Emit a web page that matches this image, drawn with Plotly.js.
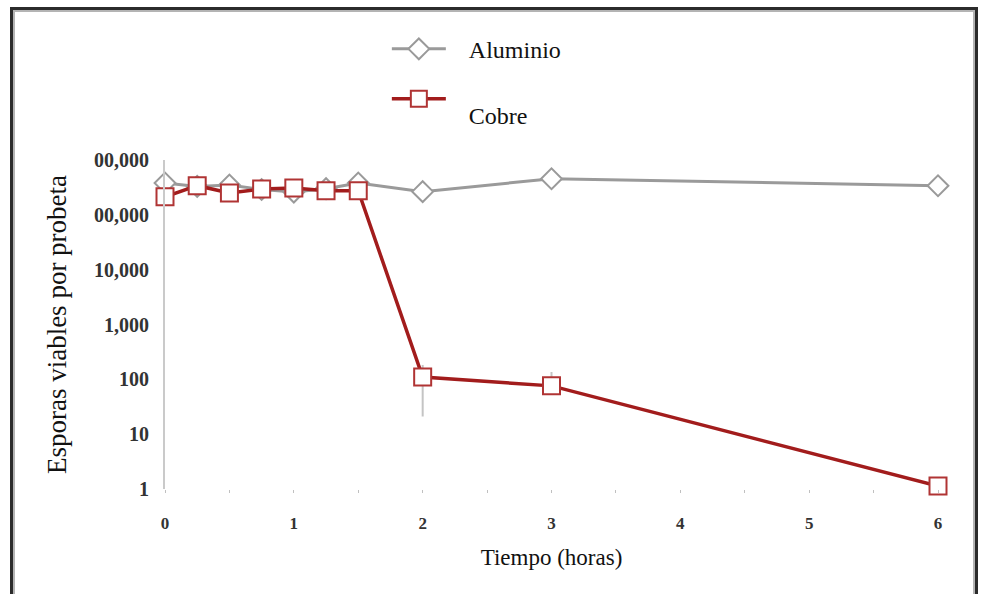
<!DOCTYPE html>
<html>
<head>
<meta charset="utf-8">
<script src="https://cdn.plot.ly/plotly-3.0.1.min.js"></script>
<style>
  html, body { margin: 0; padding: 0; background: #fff; overflow: hidden; }
  #wrap { position: relative; width: 982px; height: 594px; overflow: hidden; background: #fff; }
  #chart { position: absolute; left: 0; top: 0; width: 982px; height: 570px; }
  #frame { position: absolute; left: 10px; top: 7px; width: 968px; height: 620px; box-sizing: border-box;
           border: 3px solid #2b2b2b; box-shadow: inset 2px 2px 0 #b4b4b4, inset -2px 0 0 #b4b4b4; pointer-events: none; }
</style>
</head>
<body>
<div id="wrap">
  <div id="chart"></div>
  <div id="frame"></div>
</div>
<script>
// Time points (hours)
const timeHours = [0, 0.25, 0.5, 0.75, 1, 1.25, 1.5, 2, 3, 6];
// Viable spores per coupon
const aluminio = [380000, 330000, 350000, 290000, 260000, 300000, 380000, 265000, 455000, 340000];
const cobre    = [213000, 340000, 250000, 296000, 310000, 275000, 275000, 110, 76, 1.13];
const cobreErrPlus  = [0, 0, 0, 0, 0, 0, 0, 73, 60, 0];
const cobreErrMinus = [0, 0, 0, 0, 0, 0, 0, 89, 0, 0];
// Axis ticks
const xTickVals = [0, 1, 2, 3, 4, 5, 6];
const xTickText = ['0', '1', '2', '3', '4', '5', '6'];
const yTickVals = [1, 10, 100, 1000, 10000, 100000, 1000000];
const yTickText = ['1', '10', '100', '1,000', '10,000', '00,000', '00,000'];
const seriesNames = ['&nbsp;&nbsp;&nbsp;Aluminio', '&nbsp;<br>&nbsp;&nbsp;&nbsp;Cobre'];

const serif = 'Liberation Serif';

const traces = [
  {
    x: timeHours, y: aluminio, name: seriesNames[0], type: 'scatter', mode: 'lines+markers',
    line: { color: '#9a9a9a', width: 3 },
    marker: { symbol: 'diamond', size: 16, color: '#ffffff', line: { color: '#9a9a9a', width: 2 } },
    cliponaxis: false, legendgroup: 'a'
  },
  {
    x: timeHours, y: cobre, name: seriesNames[1], type: 'scatter', mode: 'lines+markers',
    line: { color: '#a21c1c', width: 3.5 },
    marker: { symbol: 'square', size: 17, color: '#ffffff', line: { color: '#b03434', width: 2 } },
    error_y: { type: 'data', symmetric: false, array: cobreErrPlus, arrayminus: cobreErrMinus,
               color: '#c4c4c4', thickness: 2, width: 0 },
    cliponaxis: false, legendgroup: 'b'
  }
];

const layout = {
  width: 982, height: 570,
  margin: { l: 165, r: 44, t: 160, b: 81 },
  paper_bgcolor: '#ffffff', plot_bgcolor: '#ffffff',
  font: { family: serif },
  showlegend: true,
  legend: {
    x: 0.287, xanchor: 'left', y: 1.405, yanchor: 'top',
    font: { family: serif, size: 24, color: '#111' },
    bgcolor: 'rgba(0,0,0,0)', valign: 'middle', tracegroupgap: 0, itemwidth: 54
  },
  xaxis: {
    range: [0, 6], tickvals: xTickVals, ticktext: xTickText,
    showline: false, showgrid: false, zeroline: false,
    ticks: 'outside', ticklen: 3, tickwidth: 1, tickcolor: '#c0c0c0',
    minor: { dtick: 0.5, ticks: 'outside', ticklen: 3, tickwidth: 1, tickcolor: '#c0c0c0' },
    tickfont: { family: serif, size: 17, color: '#333', weight: 'bold' },
    ticklabelstandoff: 16,
    title: { text: 'Tiempo (horas)', font: { family: serif, size: 23, color: '#111' }, standoff: 34 }
  },
  yaxis: {
    type: 'log', range: [0, 6], tickvals: yTickVals, ticktext: yTickText,
    showline: true, linecolor: '#cacaca', linewidth: 2,
    showgrid: false, zeroline: false, ticks: '',
    tickfont: { family: serif, size: 20, color: '#333', weight: 'bold' },
    ticklabelstandoff: 10,
    title: { text: 'Esporas viables por probeta', font: { family: serif, size: 27, color: '#111' }, standoff: 20 }
  }
};

Plotly.newPlot('chart', traces, layout, { displayModeBar: false, staticPlot: true });
</script>
</body>
</html>
